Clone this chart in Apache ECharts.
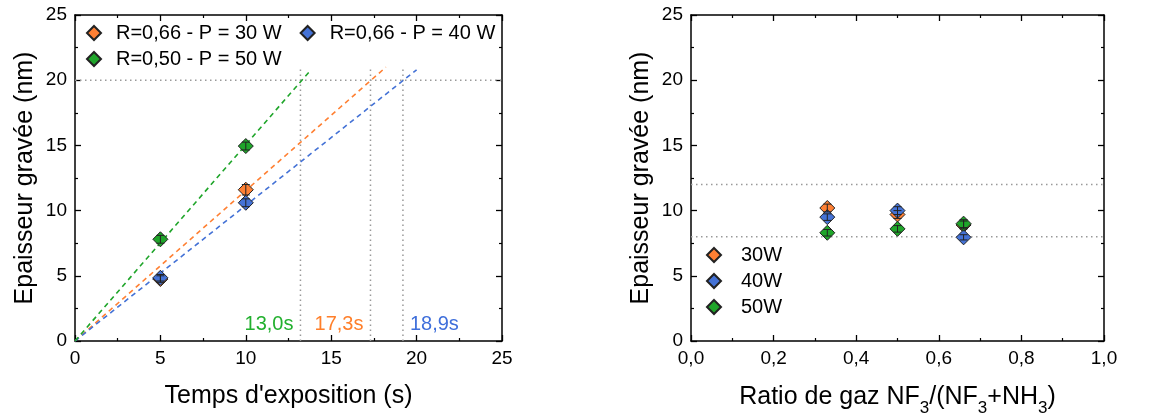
<!DOCTYPE html>
<html>
<head>
<meta charset="utf-8">
<script src="https://cdn.jsdelivr.net/npm/echarts@6/dist/echarts.min.js"></script>
<style>
html,body{margin:0;padding:0;background:#fff;}
#c{width:1158px;height:416px;}
</style>
</head>
<body>
<div id="c"></div>
<script>
// ---------- data: left chart (etched thickness vs exposure time) ----------
const timeX = [5, 10];
const thick30 = [4.75, 11.6];
const thick40 = [4.85, 10.6];
const thick50 = [7.8, 14.95];
const err30 = [0.25, 0.4];
const err40 = [0.25, 0.3];
const err50 = [0.3, 0.3];
// linear fits through origin (end points of the dashed lines)
const fitEnd30 = [18.2, 21.0];
const fitEnd40 = [20.0, 20.8];
const fitEnd50 = [13.75, 20.7];
// 20 nm crossing times
const crossX = [13.2, 17.3, 19.2];
const crossLabels = ['13,0s', '17,3s', '18,9s'];
const targetY = 20;

// ---------- data: right chart (thickness vs gas ratio) ----------
const ratioX = [0.33, 0.5, 0.66];
const r30 = [10.2, 9.7, 8.9];
const r40 = [9.5, 10.0, 7.95];
const r50 = [8.3, 8.6, 9.0];
const rErr30 = [0.3, 0.3, 0.3];
const rErr40 = [0.25, 0.3, 0.2];
const rErr50 = [0.25, 0.25, 0.3];
const refLines = [12, 8];

const leftTicks = {min: 0, max: 25, interval: 5};
const rightXTicks = {min: 0, max: 1, interval: 0.2};

const C30 = '#FF8033', C40 = '#4472D6', C50 = '#1FA52A';
const LC30 = '#FF7F2A', LC40 = '#3F6FDB', LC50 = '#22B02E';
const FONT = 'Liberation Sans, Arial, sans-serif';
const names = ['R=0,66 - P = 30 W', 'R=0,66 - P = 40 W', 'R=0,50 - P = 50 W'];
const rNames = ['30W', '40W', '50W'];

const chart = echarts.init(document.getElementById('c'), null, {renderer: 'canvas'});

function zipXY(xs, ys) { return xs.map((x, i) => [x, ys[i]]); }
function zipErr(xs, ys, es) { return xs.map((x, i) => [x, ys[i], es[i]]); }

function axisBase(extra) {
  return Object.assign({
    axisLine: {show: true, onZero: false, lineStyle: {color: '#000', width: 1.5}},
    axisTick: {show: true, inside: true, length: 6, lineStyle: {color: '#000', width: 1.3}},
    minorTick: {show: true, splitNumber: 2, length: 3, lineStyle: {color: '#000', width: 1.2}},
    splitLine: {show: false},
    axisLabel: {show: true, color: '#000', fontSize: 19, fontFamily: FONT, margin: 8},
    nameTextStyle: {color: '#000', fontSize: 25, fontFamily: FONT}
  }, extra);
}

function errRender(params, api) {
  const x = api.value(0), y = api.value(1), e = api.value(2);
  const c = api.coord([x, y]);
  const t = api.coord([x, y + e]);
  const b = api.coord([x, y - e]);
  const w = 4;
  const st = {stroke: '#222', lineWidth: 1};
  return {type: 'group', children: [
    {type: 'line', shape: {x1: c[0], y1: t[1], x2: c[0], y2: b[1]}, style: st},
    {type: 'line', shape: {x1: c[0] - w, y1: t[1], x2: c[0] + w, y2: t[1]}, style: st},
    {type: 'line', shape: {x1: c[0] - w, y1: b[1], x2: c[0] + w, y2: b[1]}, style: st}
  ]};
}

function scatter(name, color, data, xi, yi) {
  return {
    name: name, type: 'scatter', xAxisIndex: xi, yAxisIndex: yi,
    symbol: 'diamond', symbolSize: 15, data: data, z: 5,
    itemStyle: {color: color, borderColor: '#222', borderWidth: 1, opacity: 1}
  };
}
function errSeries(name, data, xi, yi) {
  return {name: name, type: 'custom', xAxisIndex: xi, yAxisIndex: yi, data: data,
    renderItem: errRender, z: 6, silent: true, encode: {x: 0, y: 1}};
}
function dashed(name, color, end) {
  return {name: name, type: 'line', xAxisIndex: 0, yAxisIndex: 0, data: [[0, 0], end],
    symbol: 'none', silent: true, z: 3,
    lineStyle: {color: color, width: 1.6, type: [5, 4]}};
}
function dotted(name, data, xi, yi) {
  return {name: name, type: 'line', xAxisIndex: xi, yAxisIndex: yi, data: data,
    symbol: 'none', silent: true, z: 2,
    lineStyle: {color: '#999', width: 1.5, type: [1.5, 3.5]}};
}

const series = [];
// left: dotted guides
series.push(dotted('h20', [[leftTicks.min, targetY], [leftTicks.max, targetY]], 0, 0));
crossX.forEach((x, i) => series.push(dotted('v' + i, [[x, 0], [x, 21]], 0, 0)));
// left: fits
series.push(dashed('fit30', C30, fitEnd30));
series.push(dashed('fit40', C40, fitEnd40));
series.push(dashed('fit50', C50, fitEnd50));
// left: points
series.push(scatter(names[0], C30, zipXY(timeX, thick30), 0, 0));
series.push(scatter(names[1], C40, zipXY(timeX, thick40), 0, 0));
series.push(scatter(names[2], C50, zipXY(timeX, thick50), 0, 0));
series.push(errSeries('e30', zipErr(timeX, thick30, err30), 0, 0));
series.push(errSeries('e40', zipErr(timeX, thick40, err40), 0, 0));
series.push(errSeries('e50', zipErr(timeX, thick50, err50), 0, 0));
// left: crossing labels
const labColors = [LC50, LC30, LC40];
const labPos = ['left', 'left', 'right'];
series.push({
  name: 'labels', type: 'scatter', xAxisIndex: 0, yAxisIndex: 0, silent: true, z: 8,
  symbol: 'circle', symbolSize: 0, itemStyle: {color: '#fff', opacity: 1},
  emphasis: {disabled: true},
  data: crossX.map((x, i) => ({
    value: [x, 1.3],
    label: {show: true, formatter: crossLabels[i], position: labPos[i], distance: 7,
      color: labColors[i], opacity: 1, fontSize: 20, fontFamily: FONT}
  }))
});

// right: ref lines
refLines.forEach((y, i) => series.push(dotted('r' + i, [[rightXTicks.min, y], [rightXTicks.max, y]], 2, 2)));
series.push(scatter(rNames[0], C30, zipXY(ratioX, r30), 2, 2));
series.push(scatter(rNames[1], C40, zipXY(ratioX, r40), 2, 2));
series.push(scatter(rNames[2], C50, zipXY(ratioX, r50), 2, 2));
series.push(errSeries('re30', zipErr(ratioX, r30, rErr30), 2, 2));
series.push(errSeries('re40', zipErr(ratioX, r40, rErr40), 2, 2));
series.push(errSeries('re50', zipErr(ratioX, r50, rErr50), 2, 2));

const legendText = {color: '#000', fontSize: 20, fontFamily: FONT, padding: [0, 0, 0, 10]};
const legendTextR = {color: '#000', fontSize: 20, fontFamily: FONT, padding: [0, 0, 0, 15]};

const option = {
  animation: false,
  backgroundColor: '#fff',
  grid: [
    {left: 75, top: 15, width: 427, height: 326, outerBoundsMode: 'none', containLabel: false},
    {left: 691, top: 15, width: 413, height: 326, outerBoundsMode: 'none', containLabel: false}
  ],
  legend: [
    {data: [names[0], names[1]], left: 86, top: 23, orient: 'horizontal', itemWidth: 14, itemHeight: 14,
      itemGap: 18, textStyle: legendText, selectedMode: false, padding: 0},
    {data: [names[2]], left: 86, top: 49, orient: 'horizontal', itemWidth: 14, itemHeight: 14,
      textStyle: legendText, selectedMode: false, padding: 0},
    {data: rNames, left: 706, top: 245, orient: 'vertical', itemWidth: 14, itemHeight: 14,
      itemGap: 6, textStyle: legendTextR, selectedMode: false, padding: 0}
  ],
  xAxis: [
    axisBase({gridIndex: 0, type: 'value', position: 'bottom', min: leftTicks.min, max: leftTicks.max,
      interval: leftTicks.interval, name: "Temps d'exposition (s)", nameLocation: 'middle', nameGap: 43}),
    axisBase({gridIndex: 0, type: 'value', position: 'top', min: leftTicks.min, max: leftTicks.max,
      interval: leftTicks.interval, axisLabel: {show: false}}),
    axisBase({gridIndex: 1, type: 'value', position: 'bottom', min: rightXTicks.min, max: rightXTicks.max,
      interval: rightXTicks.interval, nameLocation: 'middle', nameGap: 36,
      axisLabel: {show: true, color: '#000', fontSize: 19, fontFamily: FONT, margin: 8,
        formatter: v => v.toFixed(1).replace('.', ',')},
      name: 'Ratio de gaz NF{s|3}/(NF{s|3}+NH{s|3})',
      nameTextStyle: {color: '#000', fontSize: 25, fontFamily: FONT, lineHeight: 40,
        rich: {s: {fontSize: 17, fontFamily: FONT, color: '#000', lineHeight: 17, verticalAlign: 'bottom'}}}}),
    axisBase({gridIndex: 1, type: 'value', position: 'top', min: rightXTicks.min, max: rightXTicks.max,
      interval: rightXTicks.interval, axisLabel: {show: false}})
  ],
  yAxis: [
    axisBase({gridIndex: 0, type: 'value', position: 'left', min: leftTicks.min, max: leftTicks.max,
      interval: leftTicks.interval, name: 'Epaisseur gravée (nm)', nameLocation: 'middle', nameGap: 37}),
    axisBase({gridIndex: 0, type: 'value', position: 'right', min: leftTicks.min, max: leftTicks.max,
      interval: leftTicks.interval, axisLabel: {show: false}}),
    axisBase({gridIndex: 1, type: 'value', position: 'left', min: leftTicks.min, max: leftTicks.max,
      interval: leftTicks.interval, name: 'Epaisseur gravée (nm)', nameLocation: 'middle', nameGap: 37}),
    axisBase({gridIndex: 1, type: 'value', position: 'right', min: leftTicks.min, max: leftTicks.max,
      interval: leftTicks.interval, axisLabel: {show: false}})
  ],
  series: series
};
chart.setOption(option);
</script>
</body>
</html>
